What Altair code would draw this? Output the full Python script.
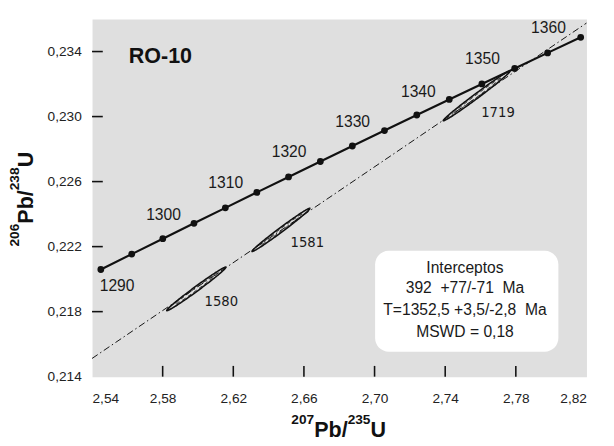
import altair as alt
import pandas as pd
import numpy as np

FONT = "Liberation Sans"
NARROW = "'Liberation Sans Narrow', 'DejaVu Sans Condensed', 'Liberation Sans'"

# ---- Concordia points (age in Ma) ----
ages = [1285, 1290, 1295, 1300, 1305, 1310, 1315, 1320, 1325, 1330, 1335, 1340, 1345, 1350, 1355, 1360]
conc_x = [2.54498, 2.56248, 2.58007, 2.59774, 2.61550, 2.63334, 2.65128, 2.66930,
          2.68742, 2.70562, 2.72391, 2.74230, 2.76077, 2.77934, 2.79799, 2.81674]
conc_y = [0.220592, 0.221539, 0.222487, 0.223436, 0.224384, 0.225335, 0.226285, 0.227236,
          0.228189, 0.229142, 0.230096, 0.231051, 0.232005, 0.232962, 0.233917, 0.234875]

# ---- Age labels ----
age_text = ["1290", "1300", "1310", "1320", "1330", "1340", "1350", "1360"]
age_lx = [2.5542, 2.5805, 2.6157, 2.6516, 2.6876, 2.7248, 2.7611, 2.7985]
age_ly = [0.21954, 0.22396, 0.22590, 0.22782, 0.22968, 0.23148, 0.23352, 0.23543]

# ---- Discordia (regression line) ----
disc_x = [2.54, 2.82]
disc_y = [0.21512, 0.23575]

# ---- Error ellipses (analyses) ----
ell_name = ["1580", "1581", "1719"]
ell_cx = [2.59905, 2.6470, 2.7578]
ell_cy = [0.21940, 0.22303, 0.23127]
ell_ax = [0.01675, 0.0164, 0.0189]
ell_ay = [0.00134, 0.00133, 0.00153]
ell_rho = [0.991, 0.992, 0.993]
ell_lx = [2.6132, 2.6619, 2.7699]
ell_ly = [0.21867, 0.22230, 0.23027]

# ---- Result box ----
box_x = [2.7003, 2.8041]
box_y = [0.21554, 0.22174]
box_lines = ["Interceptos",
             "392\u00a0\u00a0+77/-71\u00a0\u00a0Ma",
             "T=1352,5 +3,5/-2,8\u00a0\u00a0Ma",
             "MSWD = 0,18"]
box_line_x = 2.7512
box_line_y = [0.22070, 0.21945, 0.21812, 0.21675]

sample_name = "RO-10"
sample_x = 2.5608
sample_y = 0.23373

# ---- Axes ----
x_domain = [2.54, 2.82]
y_domain = [0.214, 0.236]
x_label_vals = [2.54, 2.58, 2.62, 2.66, 2.70, 2.74, 2.78, 2.82]
y_label_vals = [0.214, 0.218, 0.222, 0.226, 0.230, 0.234]
x_tick_vals = [2.58, 2.62, 2.66, 2.70, 2.74, 2.78]
y_tick_vals = [0.218, 0.222, 0.226, 0.230, 0.234]

W, H = 506, 366

xaxis = alt.Axis(values=x_label_vals, ticks=False, tickSize=0, domain=False, grid=False,
                 labelExpr="replace(format(datum.value, '.2f'), '.', ',')",
                 labelFont=FONT, labelFontSize=14, labelColor="#222222", labelPadding=15,
                 title=None, labelOverlap=False)
yaxis = alt.Axis(values=y_label_vals, ticks=False, tickSize=0, domain=False, grid=False,
                 labelExpr="replace(format(datum.value, '.3f'), '.', ',')",
                 labelFont=FONT, labelFontSize=14, labelColor="#222222", labelPadding=11,
                 title=None, labelOverlap=False)
xs = alt.Scale(domain=x_domain, nice=False, zero=False)
ys = alt.Scale(domain=y_domain, nice=False, zero=False)


def X(f="x"):
    return alt.X(f"{f}:Q", scale=xs, axis=xaxis)


def Y(f="y"):
    return alt.Y(f"{f}:Q", scale=ys, axis=yaxis)


conc_df = pd.DataFrame({"age": ages, "x": conc_x, "y": conc_y})
age_df = pd.DataFrame({"t": age_text, "x": age_lx, "y": age_ly})
disc_df = pd.DataFrame({"x": disc_x, "y": disc_y})

rows = []
inner = []
tt = np.linspace(0, 2 * np.pi, 181)
for n, cx, cy, ax, ay, r in zip(ell_name, ell_cx, ell_cy, ell_ax, ell_ay, ell_rho):
    d = np.arccos(r)
    d2 = np.arccos(min(0.999, r + 0.004))
    for i, t in enumerate(tt):
        rows.append({"e": n, "i": i, "x": cx + ax * np.cos(t), "y": cy + ay * np.cos(t - d)})
        inner.append({"e": n, "i": i, "x": cx + 0.72 * ax * np.cos(t), "y": cy + 0.72 * ay * np.cos(t - d2)})
ell_df = pd.DataFrame(rows)
inner_df = pd.DataFrame(inner)
ell_lab_df = pd.DataFrame({"t": ell_name, "x": ell_lx, "y": ell_ly})
box_df = pd.DataFrame({"x": [box_x[0]], "x2": [box_x[1]], "y": [box_y[0]], "y2": [box_y[1]]})
box_txt_df = pd.DataFrame({"t": box_lines, "x": [box_line_x] * len(box_lines), "y": box_line_y})
xt_df = pd.DataFrame({"x": x_tick_vals})
yt_df = pd.DataFrame({"y": y_tick_vals})

box = alt.Chart(box_df).mark_rect(color="white", cornerRadius=14).encode(
    x=X(), x2="x2:Q", y=Y(), y2="y2:Q")

box_text = alt.Chart(box_txt_df).mark_text(font=FONT, fontSize=16, color="#1a1a1a",
                                           align="center", baseline="middle").encode(
    x=X(), y=Y(), text="t:N")

disc = alt.Chart(disc_df).mark_line(color="#111111", strokeWidth=1,
                                    strokeDash=[7, 3, 1.5, 3]).encode(x=X(), y=Y())

ell = alt.Chart(ell_df).mark_line(color="#111111", strokeWidth=1.6).encode(
    x=X(), y=Y(), detail="e:N", order="i:Q")
ell_in = alt.Chart(inner_df).mark_line(color="#111111", strokeWidth=1,
                                       strokeDash=[4, 3]).encode(
    x=X(), y=Y(), detail="e:N", order="i:Q")
ell_lab = alt.Chart(ell_lab_df).mark_text(font=NARROW, fontSize=15, color="#1a1a1a",
                                          align="center", baseline="middle").encode(
    x=X(), y=Y(), text="t:N")

conc_line = alt.Chart(conc_df).mark_line(color="#111111", strokeWidth=2.2).encode(
    x=X(), y=Y(), order="age:Q")
conc_pts = alt.Chart(conc_df).mark_point(filled=True, color="#111111", size=48,
                                         opacity=1, shape="circle").encode(x=X(), y=Y())
age_lab = alt.Chart(age_df).mark_text(font=FONT, fontSize=16, color="#1a1a1a",
                                      align="center", baseline="middle").encode(
    x=X(), y=Y(), text="t:N")

sample = alt.Chart(pd.DataFrame({"t": [sample_name], "x": [sample_x], "y": [sample_y]})).mark_text(
    font=FONT, fontSize=22, fontWeight="bold", color="#111111", align="left",
    baseline="middle").encode(x=X(), y=Y(), text="t:N")

xticks = alt.Chart(xt_df).mark_rule(color="#111111", strokeWidth=1.6).encode(
    x=X(), y=alt.value(H), y2=alt.value(H - 11))
yticks = alt.Chart(yt_df).mark_rule(color="#111111", strokeWidth=1.6).encode(
    y=Y(), x=alt.value(0), x2=alt.value(11))


def piece(txt, px, py, size, angle=0):
    return alt.Chart(alt.Data(values=[{}])).mark_text(
        text=txt, font=FONT, fontSize=size, fontWeight="bold", align="left",
        baseline="alphabetic", angle=angle, color="#111111").encode(
        x=alt.value(px), y=alt.value(py))


# x title: 207Pb/235U
xt0 = 204
xtitle = [
    piece("207", xt0, 414, 14),
    piece("Pb/", xt0 + 23.4, 428, 22),
    piece("235", xt0 + 57.6, 414, 14),
    piece("U", xt0 + 81.0, 428, 22),
]
# y title: 206Pb/238U (rotated)
yt0 = 232.8
ytitle = [
    piece("206", -74.5, yt0, 14, 270),
    piece("Pb/", -60.2, yt0 - 23.4, 22, 270),
    piece("238", -74.5, yt0 - 57.6, 14, 270),
    piece("U", -60.2, yt0 - 81.0, 22, 270),
]

chart = alt.layer(
    box, box_text, disc, ell_in, ell, ell_lab, conc_line, conc_pts, age_lab, sample,
    xticks, yticks, *xtitle, *ytitle
).properties(
    width=W, height=H,
    autosize=alt.AutoSizeParams(type="none"),
    padding={"left": 86, "top": 6, "right": 20, "bottom": 80},
    background="white",
).configure_view(fill="#dfdfdf", stroke="transparent")

chart.save("out.html", embed_options={"renderer": "svg", "actions": False})
